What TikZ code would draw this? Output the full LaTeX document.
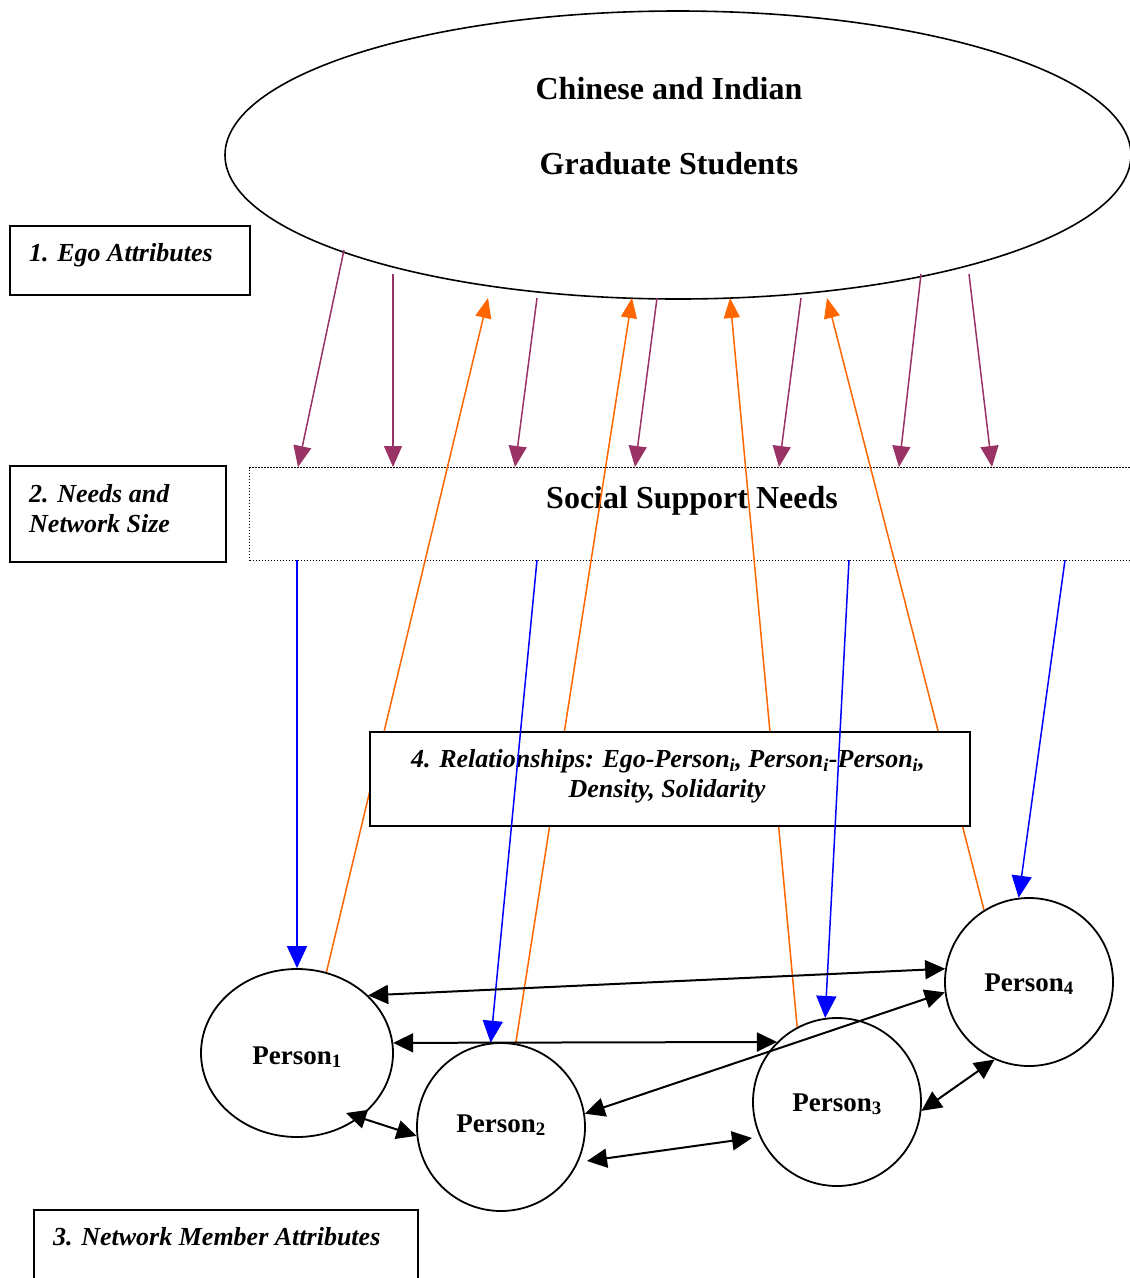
\documentclass[tikz,border=0pt]{standalone}
\usepackage{fontspec}
\setmainfont{Liberation Serif}
\usetikzlibrary{arrows.meta,shapes.geometric}
\definecolor{plum}{RGB}{153,51,102}
\definecolor{orng}{RGB}{255,102,0}
\definecolor{blu}{RGB}{0,0,255}
\begin{document}
\begin{tikzpicture}[x=1pt,y=-1pt,
  lbl/.style={inner sep=0pt, font=\fontsize{26}{30}\selectfont\bfseries\itshape},
  big/.style={inner sep=0pt, font=\fontsize{32}{38}\selectfont\bfseries},
  plainbox/.style={draw, line width=1.6pt, anchor=north west, inner sep=0pt},
  pers/.style={draw, line width=1.8pt, inner sep=0pt, text depth=0pt, text height=18pt, font=\fontsize{27}{30}\selectfont\bfseries},
  purplearrow/.style={draw=plum, line width=1.5pt, -{Triangle[length=21pt,width=18pt]}, plum},
  orangearrow/.style={draw=orng, line width=1.5pt, -{Triangle[length=20pt,width=16pt]}, orng},
  bluearrow/.style={draw=blu, line width=1.5pt, -{Triangle[length=22pt,width=20pt]}, blu},
  duo/.style={draw=black, line width=2pt, {Triangle[length=20pt,width=19pt]}-{Triangle[length=20pt,width=19pt]}}]
\useasboundingbox (0,0) rectangle (1130,1278);

% top ellipse
\node[ellipse, draw, line width=1.6pt, minimum width=906pt, minimum height=288pt, inner sep=0pt] (ego) at (678,155) {};
\node[big, anchor=base] (egoA) at (669,99) {Chinese and Indian};
\node[big, anchor=base] (egoB) at (669,174) {Graduate Students};

% needs box (dotted)
\node[draw, line width=1.3pt, dash pattern=on 1.5pt off 1.5pt, anchor=north west, minimum width=890pt, minimum height=93pt, inner sep=0pt] (need) at (249,467) {};
\node[big, anchor=base] (needT) at (692,508) {Social Support Needs};

% side labels
\node[plainbox, minimum width=240pt, minimum height=69pt] (b1) at (9,225) {};
\node[lbl, anchor=base west] (b1t) at (29,261) {1. Ego Attributes};
\node[plainbox, minimum width=216pt, minimum height=96pt] (b2) at (9,465) {};
\node[lbl, anchor=base west] (b2t) at (29,502) {2. Needs and};
\node[lbl, anchor=base west] (b2u) at (29,532) {Network Size};
\node[plainbox, minimum width=384pt, minimum height=100pt] (b3) at (33,1209) {};
\node[lbl, anchor=base west] (b3t) at (53,1245) {3. Network Member Attributes};

% persons
\node[pers, ellipse, minimum width=192pt, minimum height=168pt, text height=22pt] (p1) at (297,1053) {Person\textsubscript{1}};
\node[pers, circle, minimum size=168pt, text height=10pt] (p2) at (501,1127) {Person\textsubscript{2}};
\node[pers, circle, minimum size=168pt] (p3) at (837,1102) {Person\textsubscript{3}};
\node[pers, circle, minimum size=168pt] (p4) at (1029,982) {Person\textsubscript{4}};

% coordinates on the ellipse and the needs box
\coordinate (e1) at (344,250);
\coordinate (e2) at (393,274);
\coordinate (e3) at (537,298);
\coordinate (e4) at (657,298);
\coordinate (e5) at (801,298);
\coordinate (e6) at (921,274);
\coordinate (e7) at (969,274);
\coordinate (n1) at (298,467);
\coordinate (n2) at (393,467);
\coordinate (n3) at (515,467);
\coordinate (n4) at (635,467);
\coordinate (n5) at (779,467);
\coordinate (n6) at (899,467);
\coordinate (n7) at (992,467);
\coordinate (o1) at (488,298);
\coordinate (o2) at (632,298);
\coordinate (o3) at (730,298);
\coordinate (o4) at (827,298);
\coordinate (s1) at (297,560);
\coordinate (s2) at (537,560);
\coordinate (s3) at (849,560);
\coordinate (s4) at (1065,560);
\coordinate (q1) at (346,1113);
\coordinate (q2) at (587,1161);
\coordinate (q3) at (752,1138);

% orange arrows (persons -> ego)
\draw[orangearrow] (p1.70.5) -- (o1);
\draw[orangearrow] (p2.80) -- (o2);
\draw[orangearrow] (p3.118) -- (o3);
\draw[orangearrow] (p4.122) -- (o4);

% relationships box (white, covers orange lines)
\node[plainbox, fill=white, minimum width=600pt, minimum height=94pt] (b4) at (369,731) {};
\node[lbl, anchor=base] (b4t) at (668,767) {4. Relationships: Ego-Person\textsubscript{i}, Person\textsubscript{i}-Person\textsubscript{i},};
\node[lbl, anchor=base] (b4u) at (667,797) {Density, Solidarity};

% blue arrows (needs -> persons)
\draw[bluearrow] (s1) -- (p1.north);
\draw[bluearrow] (s2) -- (p2.97);
\draw[bluearrow] (s3) -- (p3.98);
\draw[bluearrow] (s4) -- (p4.97);

% purple arrows (ego -> needs)
\draw[purplearrow] (e1) -- (n1);
\draw[purplearrow] (e2) -- (n2);
\draw[purplearrow] (e3) -- (n3);
\draw[purplearrow] (e4) -- (n4);
\draw[purplearrow] (e5) -- (n5);
\draw[purplearrow] (e6) -- (n6);
\draw[purplearrow] (e7) -- (n7);

% black double arrows between persons
\draw[duo] (p1.39.4) -- (p4.171);
\draw[duo] (p1.6.5) -- (p3.135.5);
\draw[duo] (p2.9.5) -- (p4.187.5);
\draw[duo] (q1) -- (p2.186.8);
\draw[duo] (q2) -- (q3);
\draw[duo] (p3.-6.7) -- (p4.246.5);
\end{tikzpicture}
\end{document}
